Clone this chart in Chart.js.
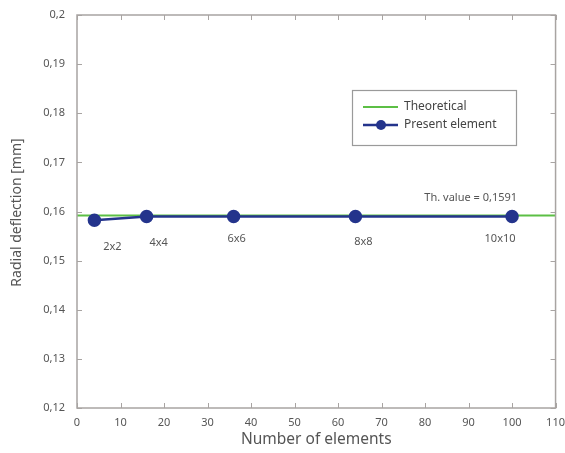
<!DOCTYPE html>
<html><head><meta charset="utf-8">
<script src="https://cdn.jsdelivr.net/npm/chart.js@4/dist/chart.umd.min.js"></script>
<style>html,body{margin:0;padding:0;background:#fff}#wrap{width:565px;height:453px}</style>
</head><body><div id="wrap"><canvas id="c" width="565" height="453"></canvas></div>
<script>
const elements = [4, 16, 36, 64, 100];
const deflection = [0.1582, 0.1590, 0.1590, 0.1590, 0.1590];
const meshLabels = ['2x2', '4x4', '6x6', '8x8', '10x10'];
const theoreticalX = [0, 110];
const theoreticalValue = 0.1592;
const xTicks = [0,10,20,30,40,50,60,70,80,90,100,110];
const yTicks = [0.12,0.13,0.14,0.15,0.16,0.17,0.18,0.19,0.2];
const annotationText = 'Th. value = 0,1591';
const yTitle = 'Radial deflection [mm]';

const FONT = '"Noto Sans", "Open Sans", sans-serif';
const GREEN = '#5cbf45';
const BLUE = '#24348c';
const AXIS = '#a8a4a2';
const TXT = '#555';

const fmt = v => String(Math.round(v*100)/100).replace('.', ',');

const labelOffsets = [[18,27],[12,26],[3,22],[8,25],[-12,22]];

const framePlugin = {
  id: 'frame',
  afterDatasetsDraw(chart) {
    const {ctx, chartArea: a, scales: {x, y}} = chart;
    ctx.save();
    ctx.strokeStyle = AXIS; ctx.lineWidth = 1.5;
    ctx.strokeRect(a.left, a.top, a.right - a.left, a.bottom - a.top);
    ctx.lineWidth = 1;
    xTicks.forEach(t => {
      const px = Math.round(x.getPixelForValue(t)) + 0.5;
      ctx.beginPath(); ctx.moveTo(px, a.bottom); ctx.lineTo(px, a.bottom - 5); ctx.stroke();
      ctx.beginPath(); ctx.moveTo(px, a.top); ctx.lineTo(px, a.top + 5); ctx.stroke();
    });
    yTicks.forEach(t => {
      const py = Math.round(y.getPixelForValue(t)) + 0.5;
      ctx.beginPath(); ctx.moveTo(a.left, py); ctx.lineTo(a.left + 5, py); ctx.stroke();
      ctx.beginPath(); ctx.moveTo(a.right, py); ctx.lineTo(a.right - 5, py); ctx.stroke();
    });
    // y title
    ctx.save();
    ctx.translate(17, (a.top + a.bottom) / 2 + 1);
    ctx.rotate(-Math.PI / 2);
    ctx.fillStyle = TXT; ctx.font = '14px ' + FONT; ctx.textAlign = 'center'; ctx.textBaseline = 'middle';
    ctx.fillText(yTitle, 0, 0);
    ctx.restore();
    // mesh labels
    ctx.fillStyle = TXT; ctx.font = '11px ' + FONT; ctx.textAlign = 'center'; ctx.textBaseline = 'middle';
    elements.forEach((e, i) => {
      const px = x.getPixelForValue(e) + labelOffsets[i][0];
      const py = y.getPixelForValue(deflection[i]) + labelOffsets[i][1];
      ctx.fillText(meshLabels[i], px, py);
    });
    ctx.textAlign = 'right';
    ctx.fillText(annotationText, x.getPixelForValue(100) + 5, y.getPixelForValue(theoreticalValue) - 18);
    // legend
    const lx = 352, ly = 90, lw = 164, lh = 55;
    ctx.fillStyle = '#fff'; ctx.fillRect(lx, ly, lw, lh);
    ctx.strokeStyle = '#9a9a9a'; ctx.lineWidth = 1.2; ctx.strokeRect(lx + 0.5, ly + 0.5, lw, lh);
    ctx.strokeStyle = GREEN; ctx.lineWidth = 2; ctx.beginPath(); ctx.moveTo(363, 107); ctx.lineTo(398, 107); ctx.stroke();
    ctx.strokeStyle = BLUE; ctx.lineWidth = 2.5; ctx.beginPath(); ctx.moveTo(363, 125); ctx.lineTo(398, 125); ctx.stroke();
    ctx.fillStyle = BLUE; ctx.beginPath(); ctx.arc(381, 125, 5, 0, Math.PI*2); ctx.fill();
    ctx.fillStyle = '#444'; ctx.font = '12px ' + FONT; ctx.textAlign = 'left';
    ctx.fillText('Theoretical', 404, 107);
    ctx.fillText('Present element', 404, 125);
    ctx.restore();
  }
};

new Chart(document.getElementById('c'), {
  type: 'scatter',
  data: {
    datasets: [
      { label: 'Present element', data: elements.map((e,i)=>({x:e,y:deflection[i]})), showLine: true,
        borderColor: BLUE, backgroundColor: BLUE, borderWidth: 2.5, pointRadius: 5.5, pointHoverRadius: 5.5, order: 1 },
      { label: 'Theoretical', data: theoreticalX.map(v=>({x:v,y:theoreticalValue})), showLine: true,
        borderColor: GREEN, borderWidth: 2, pointRadius: 0, order: 2 }
    ]
  },
  plugins: [framePlugin],
  options: {
    responsive: false, animation: false, events: [],
    layout: { padding: { left: 0, right: 9, top: 15, bottom: 0 } },
    plugins: { legend: { display: false }, tooltip: { enabled: false } },
    scales: {
      x: { type: 'linear', min: 0, max: 110,
        afterBuildTicks: s => { s.ticks = xTicks.map(v=>({value:v})); },
        ticks: { color: TXT, font: { size: 11, family: FONT }, padding: 0, maxRotation: 0 },
        grid: { display: false }, border: { display: false },
        title: { display: true, text: 'Number of elements', color: TXT, font: { size: 15.5, family: FONT }, padding: { top: 4 } },
        afterFit: s => { s.height = 45; } },
      y: { type: 'linear', min: 0.12, max: 0.2,
        afterBuildTicks: s => { s.ticks = yTicks.map(v=>({value:v})); },
        ticks: { color: TXT, font: { size: 11, family: FONT }, padding: 4, callback: v => fmt(v) },
        grid: { display: false }, border: { display: false },
        afterFit: s => { s.width = 77; } }
    }
  }
});
</script></body></html>
